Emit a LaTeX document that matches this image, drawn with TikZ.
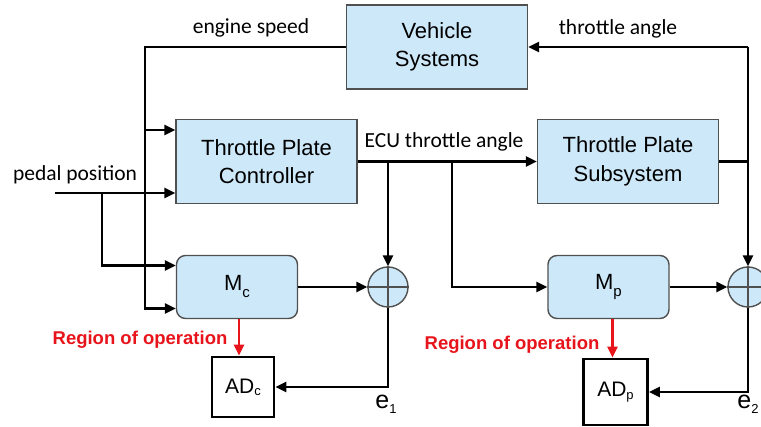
\documentclass[tikz,border=0pt]{standalone}
\usepackage{fontspec}
\setmainfont{Liberation Sans}
\newfontfamily\calfont{Carlito}
\usetikzlibrary{arrows.meta,calc}
\definecolor{boxblue}{RGB}{205,232,249}
\definecolor{boxedge}{RGB}{80,80,80}
\definecolor{regred}{RGB}{232,20,27}
\tikzset{
  blk/.style={draw=boxedge,line width=1.4pt,fill=boxblue,inner sep=0pt,align=center,
    font=\fontsize{22}{28.5}\selectfont},
  mblk/.style={blk,rounded corners=9pt,minimum width=121pt,minimum height=63pt},
  bigblk/.style={blk,minimum width=181pt,minimum height=84pt},
  adblk/.style={draw=black,line width=2.8pt,fill=white,inner sep=0pt},
  sumc/.style={circle,draw=boxedge,line width=1.4pt,fill=boxblue,minimum size=40pt,inner sep=0pt},
  wire/.style={line width=2.8pt,black},
  arr/.style={wire,-{Triangle[length=11pt,width=10pt]}},
  redarr/.style={line width=2.8pt,regred,-{Triangle[length=11pt,width=10pt]}},
  sig/.style={font=\calfont\fontsize{21.5}{21.5}\selectfont,inner sep=0pt},
  reg/.style={font=\bfseries\fontsize{18.5}{18.5}\selectfont,text=regred,inner sep=0pt},
}
\begin{document}
\begin{tikzpicture}[x=1pt,y=-1pt]
\useasboundingbox (0,0) rectangle (761,427);
% blocks
\node[bigblk] (veh) at (437,47) {Vehicle\\Systems};
\node[bigblk] (tpc) at (266.5,161.5) {Throttle Plate\\Controller};
\node[bigblk] (tps) at (628,161.5) {Throttle Plate\\Subsystem};
\node[mblk] (mc) at (237,287) {M{\fontsize{15}{15}\selectfont\raisebox{-7pt}{c}}};
\node[mblk] (mp) at (608.5,287) {M{\fontsize{15}{15}\selectfont\raisebox{-7pt}{p}}};
\node[sumc] (s1) at (388,287) {};
\node[sumc] (s2) at (748,287) {};
\draw[boxedge,line width=1.2pt] (s1.north) -- (s1.south) (s1.west) -- (s1.east);
\draw[boxedge,line width=1.2pt] (s2.north) -- (s2.south) (s2.west) -- (s2.east);
\node[adblk,minimum width=62pt,minimum height=60pt] (adc) at (243,387) {\fontsize{21}{21}\selectfont AD{\fontsize{13}{13}\selectfont\raisebox{-2pt}{c}}};
\node[adblk,minimum width=64pt,minimum height=66pt] (adp) at (615.5,392) {\fontsize{21}{21}\selectfont AD{\fontsize{13}{13}\selectfont\raisebox{-3pt}{p}}};
% coordinates
\coordinate (jE) at (145,47);
\coordinate (jE2) at (145,130);
\coordinate (ped) at (55,193);
\coordinate (jP) at (102,193);
\coordinate (j1) at (388,161.5);
\coordinate (j2) at (452,161.5);
\coordinate (jT) at (748,47);
\coordinate (rc) at ($(mc.south)+(2,0)$);
\coordinate (rp) at ($(mp.south)+(4,0)$);
% connectors
\draw[arr] (veh.west) -- (jE) |- ($(mc.west)+(0,21.5)$);
\draw[arr] (jE2) -- (jE2 -| tpc.west);
\draw[arr] (ped) -- (ped -| tpc.west);
\draw[arr] (jP) |- ($(mc.west)+(0,-21.5)$);
\draw[arr] (tpc.east) -- (tps.west);
\draw[arr] (j1) -- (s1.north);
\draw[arr] (j2) |- (mp.west);
\draw[arr] (mc.east) -- (s1.west);
\draw[arr] (mp.east) -- (s2.west);
\draw[wire] (tps.east) -- (tps.east -| jT);
\draw[arr] (jT) -- (s2.north);
\draw[arr] (jT) -- (veh.east);
\draw[arr] (s1.south) |- (adc.east);
\draw[arr] (s2.south) |- (adp.east);
\draw[redarr] (rc) -- (rc |- adc.north);
\draw[redarr] (rp) -- (rp |- adp.north);
% labels
\node[sig] (les) at (251,28) {engine speed};
\node[sig] (lta) at (618,29) {throttle angle};
\node[sig] (lecu) at (444,142) {ECU throttle angle};
\node[sig] (lped) at (75,175) {pedal position};
\node[reg] (lr1) at (140,340) {Region of operation};
\node[reg] (lr2) at (512,345) {Region of operation};
\node[inner sep=0pt] (le1) at (386,404) {\fontsize{25}{25}\selectfont e{\fontsize{13}{13}\selectfont\raisebox{-5pt}{1}}};
\node[inner sep=0pt] (le2) at (748,404) {\fontsize{25}{25}\selectfont e{\fontsize{13}{13}\selectfont\raisebox{-5pt}{2}}};
\end{tikzpicture}
\end{document}
